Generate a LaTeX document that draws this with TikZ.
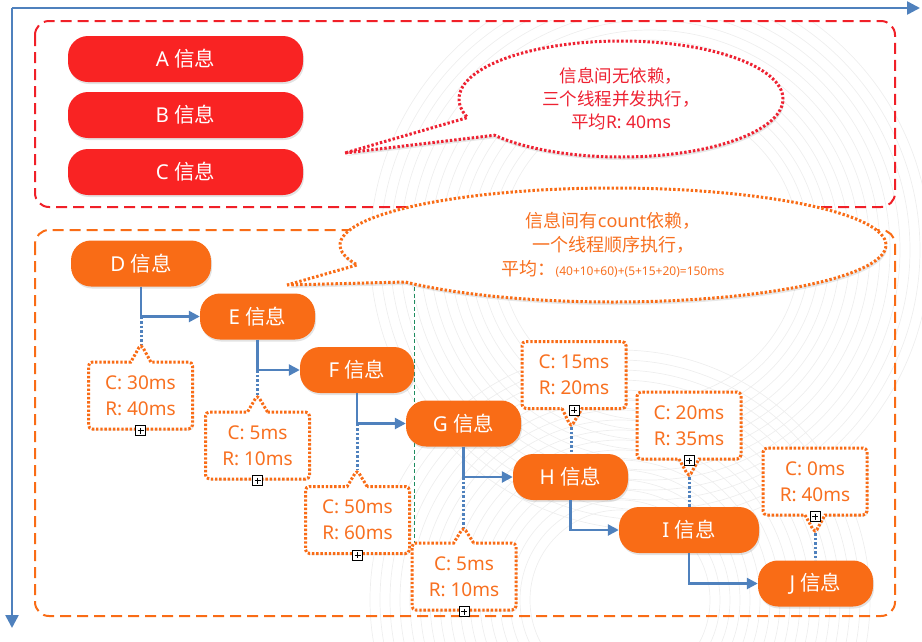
\documentclass[tikz,border=0pt]{standalone}
\usepackage{fontspec}
\setmainfont{Noto Sans}
\newfontfamily\cjk{Noto Sans CJK SC}
\usetikzlibrary{arrows.meta,shapes.callouts,shadows}

\definecolor{axblue}{RGB}{79,129,189}
\definecolor{pillred}{RGB}{249,35,35}
\definecolor{rectred}{RGB}{240,32,40}
\definecolor{pillorg}{RGB}{249,108,22}
\definecolor{txtorg}{RGB}{248,112,32}
\definecolor{txtred}{RGB}{238,34,50}
\definecolor{guidegreen}{RGB}{30,140,95}
\definecolor{swirl}{RGB}{238,238,238}

\begin{document}
\begin{tikzpicture}[x=1pt,y=-1pt,
  pill/.style={rectangle, rounded corners=20pt, text=white,
    font=\fontsize{20.5}{24}\selectfont, minimum height=46pt, inner sep=0pt,
    drop shadow={shadow xshift=1pt, shadow yshift=-2pt, opacity=0.22}},
  redpill/.style={pill, fill=pillred, minimum width=235pt},
  orgpill/.style={pill, fill=pillorg},
  axis/.style={draw=axblue, line width=2.5pt, -{Triangle[length=13pt,width=13pt]}},
  flow/.style={draw=axblue, line width=2.5pt, -{Triangle[length=11pt,width=11pt]}},
  lead/.style={draw=axblue, line width=3pt, dash pattern=on 2.5pt off 2pt},
  frame/.style={line width=2pt, rounded corners=14pt, dash pattern=on 11pt off 6pt},
  cbox/.style={rectangle callout, draw=pillorg, fill=white, line width=3pt,
    dash pattern=on 2.4pt off 1.8pt, rounded corners=4pt,
    minimum width=104pt, minimum height=67pt, callout pointer width=20pt,
    text=txtorg, font=\fontsize{19}{26}\selectfont, align=center, inner sep=0pt,
    drop shadow={shadow xshift=1pt, shadow yshift=-1.5pt, opacity=0.15}},
  ecall/.style={ellipse callout, fill=white, line width=3pt,
    dash pattern=on 2.4pt off 2pt, align=center, inner sep=0pt, callout pointer arc=20,
    drop shadow={shadow xshift=1pt, shadow yshift=-3pt, opacity=0.18}},
  plusicon/.style={draw=black, fill=white, line width=0.8pt, minimum size=10pt,
    inner sep=0pt, path picture={
      \draw[line width=0.8pt] ([yshift=-2pt]path picture bounding box.north) -- ([yshift=2pt]path picture bounding box.south);
      \draw[line width=0.8pt] ([xshift=2pt]path picture bounding box.west) -- ([xshift=-2pt]path picture bounding box.east);}},
  guide/.style={draw=guidegreen, line width=0.9pt, dash pattern=on 4pt off 2.5pt}
]
\useasboundingbox (0,0) rectangle (922,641);

% faint background swirl
\begin{scope}
  \clip (300,20) rectangle (922,641);
  \foreach \r in {150,160,...,280} \draw[swirl, line width=0.7pt] (650,250) circle (\r);
  \foreach \r in {90,100,...,250} \draw[swirl, line width=0.7pt] (620,600) circle (\r);
\end{scope}

% axes
\coordinate (orig) at (12,8);
\coordinate (xend) at (920,8);
\coordinate (yend) at (12,628);
\draw[axis] (orig) -- (xend);
\draw[axis] (orig) -- (yend);

% group frames
\draw[frame, draw=rectred] (35,21) rectangle (895,207);
\draw[frame, draw=pillorg] (35,230) rectangle (895,616);

% independent messages
\node[redpill] (A) at (185.5,59) {A {\cjk 信息}};
\node[redpill] (B) at (185.5,115) {B {\cjk 信息}};
\node[redpill] (C) at (185.5,172) {C {\cjk 信息}};

% guide line
\coordinate (g1) at (414,287);
\coordinate (g2) at (414,543);
\draw[guide] (g1) -- (g2);

% sequential messages
\node[orgpill, minimum width=140pt] (D) at (141,263.5) {D {\cjk 信息}};
\node[orgpill, minimum width=115pt] (E) at (257.5,316.5) {E {\cjk 信息}};
\node[orgpill, minimum width=114pt] (F) at (357,370) {F {\cjk 信息}};
\node[orgpill, minimum width=115pt] (G) at (463.5,423.5) {G {\cjk 信息}};
\node[orgpill, minimum width=115pt] (H) at (570.5,477) {H {\cjk 信息}};
\node[orgpill, minimum width=140pt] (I) at (689,530) {I {\cjk 信息}};
\node[orgpill, minimum width=115pt] (J) at (815.5,583.5) {J {\cjk 信息}};

% corners
\coordinate (kD) at (D.south |- E.west);
\coordinate (kE) at (E.south |- F.west);
\coordinate (kF) at (F.south |- G.west);
\coordinate (kG) at (G.south |- H.west);

% leads (dotted)
\draw[lead] (kD) -- (141,344);
\draw[lead] (kE) -- (257.5,395);
\draw[lead] (kF) -- (357,470);
\draw[lead] (kG) -- (463.5,527);
\draw[lead] (571,427) -- (571,454);
\draw[lead] (689,477) -- (689,507);
\draw[lead] (815,533) -- (815,560);

% flow arrows
\draw[flow] (D.south) |- (E.west);
\draw[flow] (E.south) |- (F.west);
\draw[flow] (F.south) |- (G.west);
\draw[flow] (G.south) |- (H.west);
\draw[flow] (H.south) |- (I.west);
\draw[flow] (I.south) |- (J.west);

% timing callouts
\node[cbox, callout absolute pointer={(141,344)}] (Dc) at (140.5,395.5) {C: 30ms\\R: 40ms};
\node[cbox, callout absolute pointer={(257.5,395)}] (Ec) at (257.5,445.5) {C: 5ms\\R: 10ms};
\node[cbox, callout absolute pointer={(357,470)}] (Fc) at (357.5,520) {C: 50ms\\R: 60ms};
\node[cbox, callout absolute pointer={(463.5,527)}] (Gc) at (464,576.5) {C: 5ms\\R: 10ms};
\node[cbox, callout absolute pointer={(571,427)}] (Hc) at (574,375) {C: 15ms\\R: 20ms};
\node[cbox, callout absolute pointer={(689,477)}] (Ic) at (689,425.5) {C: 20ms\\R: 35ms};
\node[cbox, callout absolute pointer={(815,533)}] (Jc) at (815,481.5) {C: 0ms\\R: 40ms};

\foreach \n in {Dc,Ec,Fc,Gc,Hc,Ic,Jc}
  \node[plusicon] (\n-p) at (\n.south) {};

% speech bubbles
\node[ecall, draw=txtred, text=txtred, minimum width=324pt, minimum height=116pt,
  font=\fontsize{17.5}{23}\selectfont, callout absolute pointer={(345,153)}] (n1) at (621,99)
  {{\cjk 信息间无依赖，}\\{\cjk 三个线程并发执行，}\\{\cjk 平均}R: 40ms};
\node[ecall, draw=pillorg, text=txtorg, minimum width=546pt, minimum height=114pt,
  font=\fontsize{18}{24}\selectfont, callout absolute pointer={(287,285)}] (n2) at (613,245)
  {{\cjk 信息间有}count{\cjk 依赖，}\\{\cjk 一个线程顺序执行，}\\{\cjk 平均：}{\fontsize{12}{14}\selectfont (40+10+60)+(5+15+20)=150ms}};
\end{tikzpicture}
\end{document}
